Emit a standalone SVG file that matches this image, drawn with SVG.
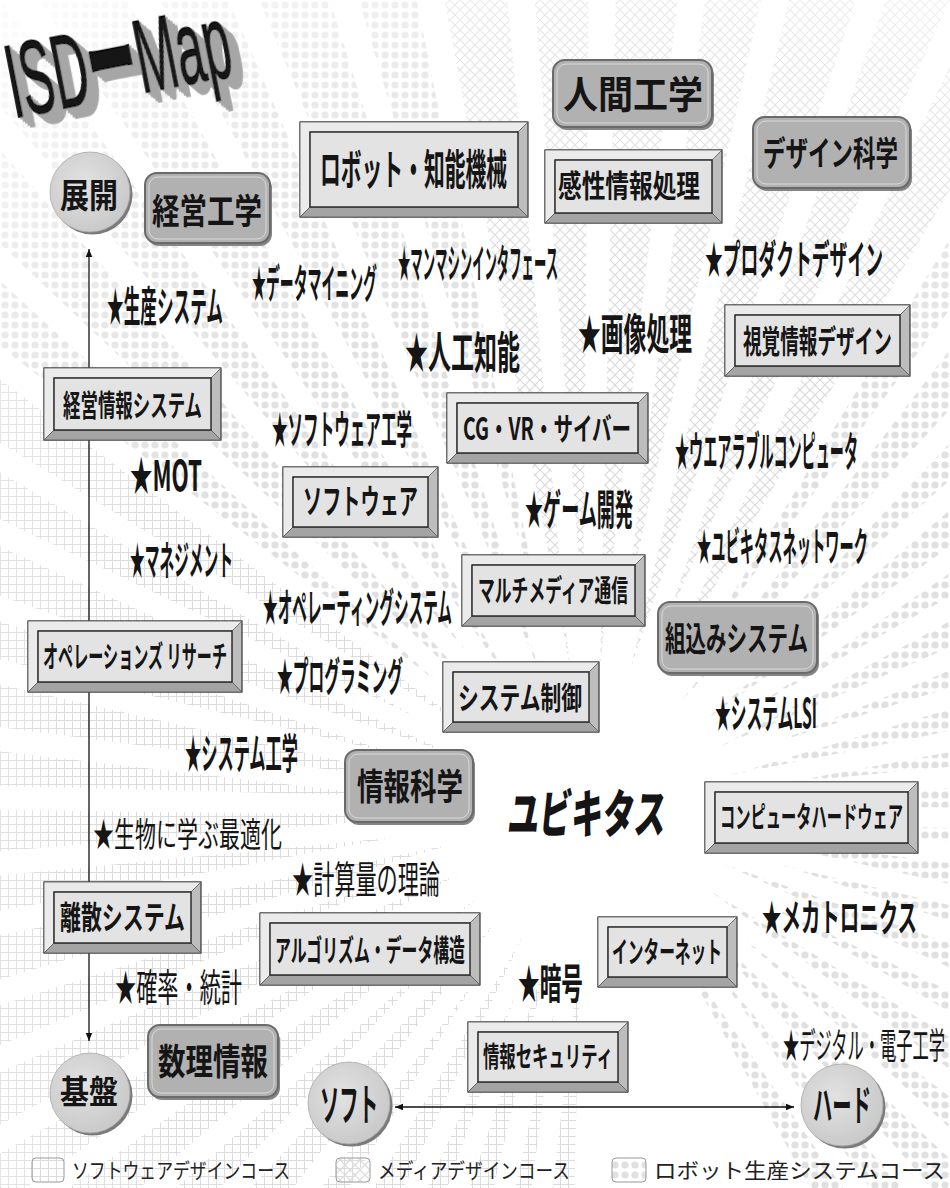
<svg xmlns="http://www.w3.org/2000/svg" xmlns:xlink="http://www.w3.org/1999/xlink" width="950" height="1188" viewBox="0 0 950 1188">
<style>
.bo{fill:#bdbdbd;stroke:#333;stroke-width:1.2}
.bt{fill:#ebebeb;stroke:#555;stroke-width:0.8}
.bb{fill:#a4a4a4;stroke:#555;stroke-width:0.8}
.bi{fill:#e3e3e3;stroke:#222;stroke-width:1.4}
.rs{fill:#858585}
.rm{fill:#b1b1b1;stroke:#6a6a6a;stroke-width:2}
.rh{fill:none;stroke:#d9d9d9;stroke-width:1}
.cs{fill:#7a7a7a}
.cm{fill:url(#cg);stroke:#aaa;stroke-width:0.8}
text{font-family:"Noto Sans CJK JP","Noto Sans",sans-serif;fill:#151515}
.b{font-weight:700}
.r{font-weight:400}
.h{font-weight:900}
.lg{font-weight:400;fill:#222}
.ax{stroke:#111;stroke-width:1.3;fill:none}
</style>
<defs>
<radialGradient id="cg" cx="0.42" cy="0.4" r="0.65">
<stop offset="0" stop-color="#e2e2e2"/><stop offset="1" stop-color="#c8c8c8"/>
</radialGradient>
<radialGradient id="fade" gradientUnits="userSpaceOnUse" cx="590" cy="810" r="960">
<stop offset="0" stop-color="#fff"/><stop offset="0.5" stop-color="#fff"/><stop offset="0.8" stop-color="#aaa"/><stop offset="1" stop-color="#222"/>
</radialGradient>
<pattern id="pDots" width="10" height="10" patternUnits="userSpaceOnUse"><circle cx="5" cy="5" r="3.6" fill="#e0e0e0"/></pattern>
<pattern id="pGrid" width="8" height="8" patternUnits="userSpaceOnUse"><path d="M0,0.5H8M0.5,0V8" stroke="#dcdcdc" stroke-width="1"/></pattern>
<pattern id="pHatch" width="10" height="10" patternUnits="userSpaceOnUse"><path d="M0,0L10,10M10,0L0,10" stroke="#d9d9d9" stroke-width="1.2"/></pattern>
<path id="rA" d="M735,810L1900,756L1900,864Z"/>
<path id="rB" d="M790,810L1900,761L1900,859Z"/>
<mask id="mHatch" maskUnits="userSpaceOnUse" x="0" y="0" width="950" height="1188">
<g fill="url(#fade)">
<use href="#rA" transform="rotate(-98 590 810)"/><use href="#rB" transform="rotate(-92 590 810)"/>
<use href="#rA" transform="rotate(-86 590 810)"/><use href="#rB" transform="rotate(-80 590 810)"/>
<use href="#rA" transform="rotate(-74 590 810)"/><use href="#rB" transform="rotate(-68 590 810)"/>
<use href="#rA" transform="rotate(-62 590 810)"/>
</g>
</mask>
<mask id="mDots" maskUnits="userSpaceOnUse" x="0" y="0" width="950" height="1188">
<g fill="url(#fade)">
<use href="#rB" transform="rotate(-104 590 810)"/><use href="#rA" transform="rotate(-110 590 810)"/>
<use href="#rB" transform="rotate(-116 590 810)"/><use href="#rA" transform="rotate(-122 590 810)"/>
<use href="#rB" transform="rotate(-128 590 810)"/><use href="#rA" transform="rotate(-134 590 810)"/>
<use href="#rB" transform="rotate(-140 590 810)"/>
<use href="#rB" transform="rotate(-56 590 810)"/><use href="#rA" transform="rotate(-50 590 810)"/>
<use href="#rB" transform="rotate(-44 590 810)"/><use href="#rA" transform="rotate(-38 590 810)"/>
<use href="#rB" transform="rotate(-32 590 810)"/><use href="#rA" transform="rotate(-26 590 810)"/>
<use href="#rB" transform="rotate(-20 590 810)"/><use href="#rA" transform="rotate(-14 590 810)"/>
<use href="#rB" transform="rotate(-8 590 810)"/><use href="#rA" transform="rotate(-2 590 810)"/>
<use href="#rB" transform="rotate(4 590 810)"/><use href="#rA" transform="rotate(10 590 810)"/>
<use href="#rB" transform="rotate(16 590 810)"/><use href="#rA" transform="rotate(22 590 810)"/>
<use href="#rB" transform="rotate(28 590 810)"/><use href="#rA" transform="rotate(34 590 810)"/>
<use href="#rB" transform="rotate(40 590 810)"/><use href="#rA" transform="rotate(46 590 810)"/>
<use href="#rB" transform="rotate(52 590 810)"/><use href="#rA" transform="rotate(58 590 810)"/>
</g>
</mask>
<mask id="mGrid" maskUnits="userSpaceOnUse" x="0" y="0" width="950" height="1188">
<g fill="url(#fade)">
<use href="#rA" transform="rotate(-146 590 810)"/><use href="#rB" transform="rotate(-152 590 810)"/>
<use href="#rA" transform="rotate(-158 590 810)"/><use href="#rB" transform="rotate(-164 590 810)"/>
<use href="#rA" transform="rotate(-170 590 810)"/><use href="#rB" transform="rotate(-176 590 810)"/>
<use href="#rA" transform="rotate(178 590 810)"/><use href="#rB" transform="rotate(172 590 810)"/>
<use href="#rA" transform="rotate(166 590 810)"/><use href="#rB" transform="rotate(160 590 810)"/>
<use href="#rA" transform="rotate(154 590 810)"/><use href="#rB" transform="rotate(148 590 810)"/>
<use href="#rA" transform="rotate(142 590 810)"/><use href="#rB" transform="rotate(136 590 810)"/>
<use href="#rA" transform="rotate(130 590 810)"/><use href="#rB" transform="rotate(124 590 810)"/>
<use href="#rA" transform="rotate(118 590 810)"/><use href="#rB" transform="rotate(112 590 810)"/>
<use href="#rA" transform="rotate(106 590 810)"/><use href="#rB" transform="rotate(100 590 810)"/>
<use href="#rA" transform="rotate(94 590 810)"/>
</g>
</mask>
<marker id="ah" viewBox="0 0 10 10" refX="10" refY="5" markerWidth="8" markerHeight="8" markerUnits="userSpaceOnUse" orient="auto-start-reverse">
<path d="M0,1L10,5L0,9Z" fill="#111"/>
</marker>
<filter id="ext" x="-10%" y="-20%" width="130%" height="160%">
<feOffset in="SourceAlpha" dx="2" dy="2.4" result="o1"/>
<feOffset in="SourceAlpha" dx="4" dy="4.8" result="o2"/>
<feOffset in="SourceAlpha" dx="6" dy="7.2" result="o3"/>
<feOffset in="SourceAlpha" dx="8" dy="9.6" result="o4"/>
<feOffset in="SourceAlpha" dx="10" dy="12" result="o5"/>
<feMerge result="m"><feMergeNode in="o1"/><feMergeNode in="o2"/><feMergeNode in="o3"/><feMergeNode in="o4"/><feMergeNode in="o5"/></feMerge>
<feFlood flood-color="#a6a6a6"/>
<feComposite in2="m" operator="in" result="g"/>
<feMerge><feMergeNode in="g"/><feMergeNode in="SourceGraphic"/></feMerge>
</filter>
</defs>

<rect width="950" height="1188" fill="#fff"/>
<g id="background">
<rect width="950" height="1188" fill="url(#pHatch)" mask="url(#mHatch)"/>
<rect width="950" height="1188" fill="url(#pDots)" mask="url(#mDots)"/>
<rect width="950" height="1188" fill="url(#pGrid)" mask="url(#mGrid)"/>
</g>

<g id="title">
<text x="14" y="118" transform="rotate(-11 14 118)" font-weight="400" font-size="104" textLength="226" lengthAdjust="spacingAndGlyphs" fill="#1c1c1c" stroke="#000" stroke-width="1.5" filter="url(#ext)" style="font-family:'Liberation Sans',Arial,sans-serif">ISD<tspan style="font-family:'Noto Sans CJK JP',sans-serif;font-weight:900">ー</tspan>Map</text>
</g>

<g id="connectors">
<line class="ax" x1="89" y1="1041" x2="89" y2="249" marker-end="url(#ah)" marker-start="url(#ah)"/>
<line class="ax" x1="395" y1="1107" x2="794" y2="1107" marker-end="url(#ah)" marker-start="url(#ah)"/>
</g>

<!-- circles -->
<g id="n-tenkai"><circle class="cs" cx="92.5" cy="194.5" r="40"/><circle class="cm" cx="90" cy="192" r="40"/>
<text class="b" x="60" y="208" font-size="34" textLength="58" lengthAdjust="spacingAndGlyphs">展開</text></g>
<g id="n-kiban"><circle class="cs" cx="92.5" cy="1095.5" r="40"/><circle class="cm" cx="90" cy="1093" r="40"/>
<text class="b" x="60" y="1104" font-size="33" textLength="58" lengthAdjust="spacingAndGlyphs">基盤</text></g>
<g id="n-soft"><circle class="cs" cx="351.5" cy="1105.5" r="41"/><circle class="cm" cx="349" cy="1103" r="41"/>
<text class="b" x="320" y="1121" font-size="44" textLength="58" lengthAdjust="spacingAndGlyphs">ソフト</text></g>
<g id="n-hard"><circle class="cs" cx="844.5" cy="1107.5" r="41"/><circle class="cm" cx="842" cy="1105" r="41"/>
<text class="b" x="813" y="1121" font-size="42" textLength="58" lengthAdjust="spacingAndGlyphs">ハード</text></g>

<!-- rounded boxes -->
<g id="n-ningen"><rect class="rs" x="555" y="63" width="159" height="67" rx="12"/><rect class="rm" x="553" y="60" width="159" height="67" rx="12"/><rect class="rh" x="557" y="64" width="151" height="59" rx="9"/>
<text class="b" x="563" y="108" font-size="38" textLength="140" lengthAdjust="spacingAndGlyphs">人間工学</text></g>
<g id="n-design"><rect class="rs" x="755" y="120" width="157" height="71" rx="12"/><rect class="rm" x="753" y="117" width="157" height="71" rx="12"/><rect class="rh" x="757" y="121" width="149" height="63" rx="9"/>
<text class="b" x="763" y="166" font-size="34" textLength="135" lengthAdjust="spacingAndGlyphs">デザイン科学</text></g>
<g id="n-keiei"><rect class="rs" x="147" y="176" width="125" height="70" rx="12"/><rect class="rm" x="145" y="173" width="125" height="70" rx="12"/><rect class="rh" x="149" y="177" width="117" height="62" rx="9"/>
<text class="b" x="152" y="224" font-size="35" textLength="110" lengthAdjust="spacingAndGlyphs">経営工学</text></g>
<g id="n-kumikomi"><rect class="rs" x="660" y="605" width="159" height="71" rx="12"/><rect class="rm" x="658" y="602" width="159" height="71" rx="12"/><rect class="rh" x="662" y="606" width="151" height="63" rx="9"/>
<text class="b" x="665" y="651" font-size="34" textLength="143" lengthAdjust="spacingAndGlyphs">組込みシステム</text></g>
<g id="n-johokagaku"><rect class="rs" x="347" y="753" width="128" height="72" rx="12"/><rect class="rm" x="345" y="750" width="128" height="72" rx="12"/><rect class="rh" x="349" y="754" width="120" height="64" rx="9"/>
<text class="b" x="357" y="800" font-size="36" textLength="106" lengthAdjust="spacingAndGlyphs">情報科学</text></g>
<g id="n-suri"><rect class="rs" x="150" y="1028" width="130" height="72" rx="12"/><rect class="rm" x="148" y="1025" width="130" height="72" rx="12"/><rect class="rh" x="152" y="1029" width="122" height="64" rx="9"/>
<text class="b" x="158" y="1075" font-size="36" textLength="110" lengthAdjust="spacingAndGlyphs">数理情報</text></g>

<!-- bevel boxes -->
<g id="n-robot"><rect class="bo" x="300" y="122" width="228" height="95"/><path class="bt" d="M300,122H528L518,132H310V207L300,217Z"/><path class="bb" d="M300,217L310,207H518L528,217Z"/><rect class="bi" x="310" y="132" width="208" height="75"/>
<text class="b" x="320" y="185" font-size="42" textLength="187" lengthAdjust="spacingAndGlyphs">ロボット・知能機械</text></g>
<g id="n-kansei"><rect class="bo" x="545" y="150" width="177" height="73"/><path class="bt" d="M545,150H722L712,160H555V213L545,223Z"/><path class="bb" d="M545,223L555,213H712L722,223Z"/><rect class="bi" x="555" y="160" width="157" height="53"/>
<text class="b" x="558" y="197" font-size="31" textLength="142" lengthAdjust="spacingAndGlyphs">感性情報処理</text></g>
<g id="n-shikaku"><rect class="bo" x="725" y="305" width="185" height="71"/><path class="bt" d="M725,305H910L900,315H735V366L725,376Z"/><path class="bb" d="M725,376L735,366H900L910,376Z"/><rect class="bi" x="735" y="315" width="165" height="51"/>
<text class="b" x="743" y="353" font-size="32" textLength="149" lengthAdjust="spacingAndGlyphs">視覚情報デザイン</text></g>
<g id="n-keieijoho"><rect class="bo" x="44" y="368" width="177" height="72"/><path class="bt" d="M44,368H221L211,378H54V430L44,440Z"/><path class="bb" d="M44,440L54,430H211L221,440Z"/><rect class="bi" x="54" y="378" width="157" height="52"/>
<text class="b" x="63" y="416" font-size="30" textLength="139" lengthAdjust="spacingAndGlyphs">経営情報システム</text></g>
<g id="n-cg"><rect class="bo" x="447" y="393" width="201" height="70"/><path class="bt" d="M447,393H648L638,403H457V453L447,463Z"/><path class="bb" d="M447,463L457,453H638L648,463Z"/><rect class="bi" x="457" y="403" width="181" height="50"/>
<text class="b" x="463" y="440" font-size="31" textLength="168" lengthAdjust="spacingAndGlyphs">CG・VR・サイバー</text></g>
<g id="n-software"><rect class="bo" x="283" y="467" width="155" height="70"/><path class="bt" d="M283,467H438L428,477H293V527L283,537Z"/><path class="bb" d="M283,537L293,527H428L438,537Z"/><rect class="bi" x="293" y="477" width="135" height="50"/>
<text class="b" x="303" y="514" font-size="34" textLength="115" lengthAdjust="spacingAndGlyphs">ソフトウェア</text></g>
<g id="n-multimedia"><rect class="bo" x="462" y="555" width="183" height="71"/><path class="bt" d="M462,555H645L635,565H472V616L462,626Z"/><path class="bb" d="M462,626L472,616H635L645,626Z"/><rect class="bi" x="472" y="565" width="163" height="51"/>
<text class="b" x="478" y="601" font-size="30" textLength="150" lengthAdjust="spacingAndGlyphs">マルチメディア通信</text></g>
<g id="n-or"><rect class="bo" x="28" y="621" width="214" height="71"/><path class="bt" d="M28,621H242L232,631H38V682L28,692Z"/><path class="bb" d="M28,692L38,682H232L242,692Z"/><rect class="bi" x="38" y="631" width="194" height="51"/>
<text class="b" x="43" y="667" font-size="30" textLength="184" lengthAdjust="spacingAndGlyphs">オペレーションズ リサーチ</text></g>
<g id="n-seigyo"><rect class="bo" x="443" y="662" width="156" height="70"/><path class="bt" d="M443,662H599L589,672H453V722L443,732Z"/><path class="bb" d="M443,732L453,722H589L599,732Z"/><rect class="bi" x="453" y="672" width="136" height="50"/>
<text class="b" x="458" y="709" font-size="31" textLength="124" lengthAdjust="spacingAndGlyphs">システム制御</text></g>
<g id="n-hardware"><rect class="bo" x="705" y="782" width="213" height="71"/><path class="bt" d="M705,782H918L908,792H715V843L705,853Z"/><path class="bb" d="M705,853L715,843H908L918,853Z"/><rect class="bi" x="715" y="792" width="193" height="51"/>
<text class="b" x="720" y="828" font-size="29" textLength="183" lengthAdjust="spacingAndGlyphs">コンピュータハードウェア</text></g>
<g id="n-risan"><rect class="bo" x="44" y="882" width="157" height="71"/><path class="bt" d="M44,882H201L191,892H54V943L44,953Z"/><path class="bb" d="M44,953L54,943H191L201,953Z"/><rect class="bi" x="54" y="892" width="137" height="51"/>
<text class="b" x="60" y="929" font-size="32" textLength="125" lengthAdjust="spacingAndGlyphs">離散システム</text></g>
<g id="n-algo"><rect class="bo" x="260" y="913" width="220" height="72"/><path class="bt" d="M260,913H480L470,923H270V975L260,985Z"/><path class="bb" d="M260,985L270,975H470L480,985Z"/><rect class="bi" x="270" y="923" width="200" height="52"/>
<text class="b" x="275" y="961" font-size="30" textLength="190" lengthAdjust="spacingAndGlyphs">アルゴリズム・データ構造</text></g>
<g id="n-internet"><rect class="bo" x="598" y="917" width="139" height="70"/><path class="bt" d="M598,917H737L727,927H608V977L598,987Z"/><path class="bb" d="M598,987L608,977H727L737,987Z"/><rect class="bi" x="608" y="927" width="119" height="50"/>
<text class="b" x="612" y="963" font-size="29" textLength="110" lengthAdjust="spacingAndGlyphs">インターネット</text></g>
<g id="n-security"><rect class="bo" x="468" y="1022" width="160" height="70"/><path class="bt" d="M468,1022H628L618,1032H478V1082L468,1092Z"/><path class="bb" d="M468,1092L478,1082H618L628,1092Z"/><rect class="bi" x="478" y="1032" width="140" height="50"/>
<text class="b" x="483" y="1067" font-size="28" textLength="130" lengthAdjust="spacingAndGlyphs">情報セキュリティ</text></g>

<!-- star topics -->
<g id="topics">
<text class="b" x="107" y="322" font-size="42" textLength="116" lengthAdjust="spacingAndGlyphs">★生産システム</text>
<text class="b" x="252" y="298" font-size="40" textLength="125" lengthAdjust="spacingAndGlyphs">★データマイニング</text>
<text class="b" x="398" y="278" font-size="40" textLength="160" lengthAdjust="spacingAndGlyphs">★マンマシンインタフェース</text>
<text class="b" x="705" y="274" font-size="40" textLength="178" lengthAdjust="spacingAndGlyphs">★プロダクトデザイン</text>
<text class="b" x="405" y="369" font-size="44" textLength="115" lengthAdjust="spacingAndGlyphs">★人工知能</text>
<text class="b" x="578" y="350" font-size="43" textLength="114" lengthAdjust="spacingAndGlyphs">★画像処理</text>
<text class="b" x="272" y="444" font-size="40" textLength="140" lengthAdjust="spacingAndGlyphs">★ソフトウェア工学</text>
<text class="b" x="675" y="467" font-size="42" textLength="183" lengthAdjust="spacingAndGlyphs">★ウエアラブルコンピュータ</text>
<text class="b" x="130" y="491" font-size="42" textLength="72" lengthAdjust="spacingAndGlyphs">★MOT</text>
<text class="b" x="525" y="525" font-size="42" textLength="108" lengthAdjust="spacingAndGlyphs">★ゲーム開発</text>
<text class="b" x="130" y="575" font-size="40" textLength="103" lengthAdjust="spacingAndGlyphs">★マネジメント</text>
<text class="b" x="697" y="561" font-size="40" textLength="171" lengthAdjust="spacingAndGlyphs">★ユビキタスネットワーク</text>
<text class="b" x="263" y="622" font-size="40" textLength="189" lengthAdjust="spacingAndGlyphs">★オペレーティングシステム</text>
<text class="b" x="277" y="691" font-size="40" textLength="126" lengthAdjust="spacingAndGlyphs">★プログラミング</text>
<text class="b" x="715" y="728" font-size="40" textLength="102" lengthAdjust="spacingAndGlyphs">★システムLSI</text>
<text class="b" x="185" y="769" font-size="42" textLength="113" lengthAdjust="spacingAndGlyphs">★システム工学</text>
<text class="r" x="93" y="847" font-size="34" textLength="189" lengthAdjust="spacingAndGlyphs">★生物に学ぶ最適化</text>
<text class="r" x="292" y="893" font-size="38" textLength="148" lengthAdjust="spacingAndGlyphs">★計算量の理論</text>
<text class="r" x="115" y="1001" font-size="38" textLength="127" lengthAdjust="spacingAndGlyphs">★確率・統計</text>
<text class="b" x="762" y="931" font-size="38" textLength="155" lengthAdjust="spacingAndGlyphs">★メカトロニクス</text>
<text class="b" x="518" y="999" font-size="42" textLength="65" lengthAdjust="spacingAndGlyphs">★暗号</text>
<text class="r" x="783" y="1059" font-size="36" textLength="162" lengthAdjust="spacingAndGlyphs">★デジタル・電子工学</text>
<text class="h" x="507" y="833" font-size="52" textLength="158" lengthAdjust="spacingAndGlyphs" transform="skewX(-6) translate(87 0)">ユビキタス</text>
</g>

<g id="legend">
<rect x="32" y="1158" width="32" height="24" rx="4" fill="url(#pGrid)" stroke="#999"/>
<text class="lg" x="72" y="1178" font-size="21" textLength="218" lengthAdjust="spacingAndGlyphs">ソフトウェアデザインコース</text>
<rect x="336" y="1158" width="34" height="24" rx="4" fill="url(#pHatch)" stroke="#999"/>
<text class="lg" x="378" y="1178" font-size="21" textLength="192" lengthAdjust="spacingAndGlyphs">メディアデザインコース</text>
<rect x="612" y="1158" width="34" height="24" rx="4" fill="url(#pDots)" stroke="#999"/>
<text class="lg" x="654" y="1178" font-size="21" textLength="291" lengthAdjust="spacingAndGlyphs">ロボット生産システムコース</text>
</g>
</svg>
